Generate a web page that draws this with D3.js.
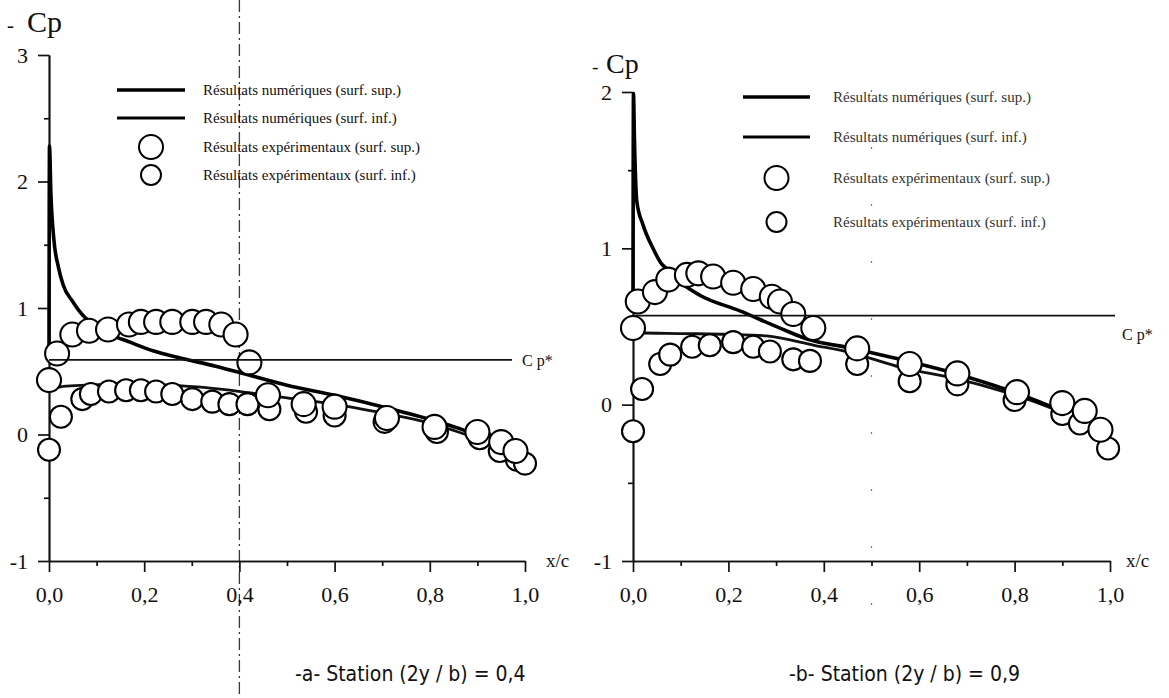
<!DOCTYPE html>
<html>
<head>
<meta charset="utf-8">
<script src="https://cdn.jsdelivr.net/npm/d3@7"></script>
<style>
  body { margin: 0; background: #fff; }
  svg { display: block; }
  .tick text { font-family: "Liberation Serif", "DejaVu Serif", serif; fill: #111; }
</style>
</head>
<body>
<svg id="chart" width="1169" height="698"></svg>
<script>
// ---- Axis ticks ----
const xTicks = [0, 0.2, 0.4, 0.6, 0.8, 1.0];
const xTickLabels = ["0,0", "0,2", "0,4", "0,6", "0,8", "1,0"];
const xMinorTicks = [0.1, 0.3, 0.5, 0.7, 0.9];
const yTicksA = [-1, 0, 1, 2, 3];
const yMinorA = [-0.5, 0.5, 1.5, 2.5];
const yTicksB = [-1, 0, 1, 2];
const yMinorB = [-0.5, 0.5, 1.5];

// ---- Legend ----
const legendLabels = [
  "Résultats numériques (surf. sup.)",
  "Résultats numériques (surf. inf.)",
  "Résultats expérimentaux (surf. sup.)",
  "Résultats expérimentaux (surf. inf.)"
];

// ---- Station (2y/b) = 0,4 ----
const cpStarA = 0.59;
const numUpperA_x = [0, 0.001, 0.004, 0.01, 0.02, 0.03, 0.05, 0.065, 0.08, 0.1, 0.13, 0.17, 0.22, 0.27, 0.35, 0.42, 0.5, 0.6, 0.7, 0.8, 0.86, 0.92, 0.96, 1.0];
const numUpperA_y = [0.62, 2.28, 1.9, 1.55, 1.32, 1.18, 1.05, 0.97, 0.91, 0.86, 0.79, 0.73, 0.66, 0.61, 0.54, 0.47, 0.39, 0.31, 0.22, 0.12, 0.05, -0.04, -0.11, -0.19];
const numLowerA_x = [0, 0.008, 0.03, 0.08, 0.15, 0.25, 0.33, 0.42, 0.5, 0.6, 0.7, 0.8, 0.86, 0.92, 0.96, 1.0];
const numLowerA_y = [0.43, 0.37, 0.38, 0.39, 0.40, 0.39, 0.37, 0.33, 0.29, 0.24, 0.17, 0.09, 0.02, -0.06, -0.12, -0.2];
const expUpperA_x = [0.0, 0.017, 0.049, 0.084, 0.124, 0.168, 0.193, 0.225, 0.259, 0.301, 0.330, 0.362, 0.392, 0.421, 0.46, 0.535, 0.60, 0.71, 0.81, 0.90, 0.95, 0.98];
const expUpperA_y = [0.43, 0.64, 0.79, 0.82, 0.83, 0.87, 0.89, 0.89, 0.89, 0.89, 0.89, 0.87, 0.79, 0.57, 0.31, 0.24, 0.22, 0.13, 0.06, 0.02, -0.06, -0.13];
const expLowerA_x = [0.0, 0.025, 0.07, 0.088, 0.126, 0.162, 0.193, 0.225, 0.259, 0.301, 0.343, 0.379, 0.417, 0.463, 0.54, 0.60, 0.705, 0.815, 0.905, 0.947, 0.983, 1.0];
const expLowerA_y = [-0.12, 0.14, 0.28, 0.32, 0.34, 0.35, 0.35, 0.34, 0.32, 0.28, 0.26, 0.24, 0.24, 0.20, 0.18, 0.15, 0.10, 0.02, -0.03, -0.13, -0.20, -0.23];

// ---- Station (2y/b) = 0,9 ----
const cpStarB = 0.57;
const numUpperB_x = [0, 0.001, 0.003, 0.008, 0.021, 0.042, 0.06, 0.07, 0.1, 0.14, 0.224, 0.308, 0.365, 0.46, 0.56, 0.686, 0.77, 0.85, 0.92, 0.96, 1.0];
const numUpperB_y = [0.72, 1.99, 1.7, 1.3, 1.15, 1.0, 0.9, 0.87, 0.78, 0.70, 0.60, 0.49, 0.42, 0.36, 0.29, 0.19, 0.11, 0.02, -0.07, -0.14, -0.25];
const numLowerB_x = [0, 0.01, 0.1, 0.2, 0.28, 0.38, 0.46, 0.56, 0.686, 0.77, 0.85, 0.92, 0.96, 1.0];
const numLowerB_y = [0.49, 0.46, 0.455, 0.45, 0.44, 0.38, 0.33, 0.24, 0.16, 0.09, 0.01, -0.08, -0.15, -0.26];
const expUpperB_x = [0.0, 0.01, 0.046, 0.074, 0.113, 0.137, 0.168, 0.21, 0.252, 0.291, 0.308, 0.336, 0.378, 0.47, 0.58, 0.68, 0.805, 0.90, 0.947, 0.98];
const expUpperB_y = [0.49, 0.66, 0.72, 0.80, 0.83, 0.84, 0.82, 0.78, 0.74, 0.69, 0.66, 0.58, 0.49, 0.36, 0.26, 0.20, 0.08, 0.01, -0.04, -0.16];
const expLowerB_x = [0.0, 0.019, 0.057, 0.078, 0.124, 0.161, 0.21, 0.252, 0.287, 0.336, 0.371, 0.47, 0.58, 0.68, 0.80, 0.90, 0.937, 0.996];
const expLowerB_y = [-0.17, 0.10, 0.26, 0.32, 0.37, 0.38, 0.40, 0.37, 0.34, 0.29, 0.28, 0.26, 0.15, 0.13, 0.03, -0.06, -0.12, -0.28];

const zip = (xs, ys) => xs.map((x, i) => ({ x, y: ys[i] }));
const svg = d3.select("#chart");
const SERIF = '"Liberation Serif", "DejaVu Serif", serif';
const NARROW = '"Liberation Sans Narrow", "DejaVu Sans Condensed", "Liberation Sans", sans-serif';

function drawPanel(p) {
  const x = d3.scaleLinear().domain([0, 1]).range(p.xRange);
  const y = d3.scaleLinear().domain(p.yDomain).range(p.yRange);
  const g = svg.append("g");

  // faint vertical guide line
  if (p.guide) {
    g.append("line")
      .attr("x1", x(p.guide.at)).attr("x2", x(p.guide.at))
      .attr("y1", p.guide.y1).attr("y2", p.guide.y2)
      .attr("stroke", "#222").attr("stroke-width", p.guide.w)
      .attr("stroke-dasharray", p.guide.dash).attr("opacity", p.guide.op);
  }

  // axes (plain hyphen for negative labels, decimal comma on x)
  const xAxis = d3.axisBottom(x).tickValues(xTicks)
    .tickFormat((d, i) => xTickLabels[i]).tickSize(11).tickSizeOuter(0).tickPadding(14);
  const xMinor = d3.axisBottom(x).tickValues(xMinorTicks).tickFormat("").tickSize(5).tickSizeOuter(0);
  const yAxis = d3.axisLeft(y).tickValues(p.yTicks).tickFormat(d => String(d))
    .tickSize(11).tickSizeOuter(0).tickPadding(10);
  const yMinor = d3.axisLeft(y).tickValues(p.yMinor).tickFormat("").tickSize(5).tickSizeOuter(0);

  const y0 = y(p.yDomain[0]);
  [xAxis, xMinor].forEach(a => {
    const ax = g.append("g").attr("transform", `translate(0,${y0})`).call(a);
    ax.selectAll("path,line").attr("stroke", "#111").attr("stroke-width", 1.7);
    ax.selectAll("text").attr("font-size", 22);
  });
  [yAxis, yMinor].forEach(a => {
    const ax = g.append("g").attr("transform", `translate(${p.xRange[0]},0)`).call(a);
    ax.selectAll("path,line").attr("stroke", "#111").attr("stroke-width", 1.7);
    ax.selectAll("text").attr("font-size", 22);
  });

  // numerical results
  const line = d3.line().x(d => x(d.x)).y(d => y(d.y)).curve(d3.curveMonotoneX);
  g.append("path").datum(zip(p.numLower[0], p.numLower[1]))
    .attr("d", line).attr("fill", "none").attr("stroke", "#111").attr("stroke-width", 2.8);
  g.append("path").datum(zip(p.numUpper[0], p.numUpper[1]))
    .attr("d", line).attr("fill", "none").attr("stroke", "#000").attr("stroke-width", 3.6);

  // experimental results
  g.append("g").selectAll("circle").data(zip(p.expLower[0], p.expLower[1])).join("circle")
    .attr("cx", d => x(d.x)).attr("cy", d => y(d.y)).attr("r", 11)
    .attr("fill", "#fff").attr("stroke", "#000").attr("stroke-width", 2.1);
  g.append("g").selectAll("circle").data(zip(p.expUpper[0], p.expUpper[1])).join("circle")
    .attr("cx", d => x(d.x)).attr("cy", d => y(d.y)).attr("r", 12)
    .attr("fill", "#fff").attr("stroke", "#000").attr("stroke-width", 2.1);

  // critical pressure coefficient
  g.append("line")
    .attr("x1", p.xRange[0]).attr("x2", p.cpEnd)
    .attr("y1", y(p.cpStar)).attr("y2", y(p.cpStar))
    .attr("stroke", "#111").attr("stroke-width", 1.7);
  g.append("text").attr("x", p.cpLabel[0]).attr("y", y(p.cpStar) + p.cpLabel[1])
    .attr("font-family", SERIF).attr("font-size", 16).attr("fill", "#111")
    .text("C p*");

  // axis titles
  const t = g.append("text").attr("y", p.title[2])
    .attr("font-family", SERIF).attr("font-size", p.title[3]).attr("fill", "#111");
  t.append("tspan").attr("x", p.title[0]).attr("font-size", p.title[3] * 0.7).text("-");
  t.append("tspan").attr("x", p.title[1]).text("Cp");
  g.append("text").attr("x", p.xRange[1] + p.xcOffset).attr("y", y0 + 6)
    .attr("font-family", SERIF).attr("font-size", 19).attr("fill", "#111")
    .text("x/c");

  // legend
  const L = p.legend;
  L.rows.forEach((ry, i) => {
    if (i < 2) {
      g.append("line").attr("x1", L.x1).attr("x2", L.x2).attr("y1", ry).attr("y2", ry)
        .attr("stroke", "#000").attr("stroke-width", i === 0 ? 3.6 : 2.8);
    } else {
      g.append("circle").attr("cx", (L.x1 + L.x2) / 2).attr("cy", ry).attr("r", i === 2 ? 12 : 10)
        .attr("fill", "#fff").attr("stroke", "#000").attr("stroke-width", 2);
    }
    g.append("text").attr("x", L.tx).attr("y", ry + 5)
      .attr("font-family", SERIF).attr("font-size", 15).attr("fill", L.color)
      .text(legendLabels[i]);
  });

  // caption
  g.append("text").attr("x", p.caption[0]).attr("y", p.caption[1])
    .attr("font-family", NARROW).attr("font-size", 21).attr("fill", "#111")
    .text(p.caption[2]);
}

drawPanel({
  xRange: [49, 525], yDomain: [-1, 3], yRange: [561, 55],
  yTicks: yTicksA, yMinor: yMinorA, cpStar: cpStarA, cpEnd: 512, cpLabel: [522, 6],
  numUpper: [numUpperA_x, numUpperA_y], numLower: [numLowerA_x, numLowerA_y],
  expUpper: [expUpperA_x, expUpperA_y], expLower: [expLowerA_x, expLowerA_y],
  title: [7, 27, 32, 30], xcOffset: 21,
  legend: { x1: 117, x2: 185, tx: 203, rows: [90, 118, 147, 175], color: "#111" },
  caption: [295, 681, "-a- Station (2y / b) = 0,4"],
  guide: { at: 0.4, y1: 0, y2: 698, w: 1.3, dash: "12,4,2,4", op: 0.9 }
});

drawPanel({
  xRange: [633, 1110], yDomain: [-1, 2], yRange: [561, 92],
  yTicks: yTicksB, yMinor: yMinorB, cpStar: cpStarB, cpEnd: 1115, cpLabel: [1122, 24],
  numUpper: [numUpperB_x, numUpperB_y], numLower: [numLowerB_x, numLowerB_y],
  expUpper: [expUpperB_x, expUpperB_y], expLower: [expLowerB_x, expLowerB_y],
  title: [592, 606, 73, 28], xcOffset: 16,
  legend: { x1: 743, x2: 810, tx: 833, rows: [97, 137, 178, 222], color: "#333" },
  caption: [789, 681, "-b- Station (2y / b) = 0,9"],
  guide: { at: 0.5, y1: 90, y2: 640, w: 1.2, dash: "2,55", op: 0.6 }
});
</script>
</body>
</html>
